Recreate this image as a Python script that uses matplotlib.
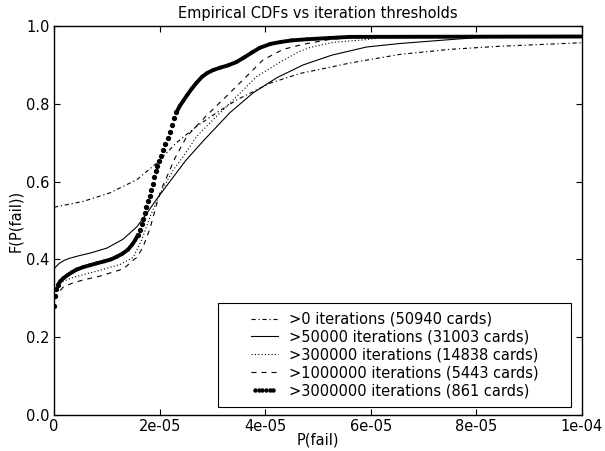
import numpy as np
import matplotlib
matplotlib.use("Agg")
import matplotlib.pyplot as plt
from matplotlib.lines import Line2D
from matplotlib.patches import Rectangle
from matplotlib.collections import LineCollection
from matplotlib.legend_handler import HandlerLine2D

plt.rcParams['font.family'] = ['DejaVu Sans']
plt.rcParams['lines.scale_dashes'] = False

# ---- data (x in units of 1e-6) ----
labels = [">0 iterations (50940 cards)",
          ">50000 iterations (31003 cards)",
          ">300000 iterations (14838 cards)",
          ">1000000 iterations (5443 cards)",
          ">3000000 iterations (861 cards)"]

x_gt0 = [0, 5.5, 10.6, 15.7, 19.5, 23.2, 27.0, 30.8, 34.6, 38.4, 40.9, 46.6, 52.3,
         56.1, 65.5, 75.0, 84.5, 100]
y_gt0 = [0.534, 0.549, 0.571, 0.605, 0.648, 0.700, 0.742, 0.777, 0.810, 0.836, 0.853,
         0.878, 0.894, 0.905, 0.927, 0.940, 0.948, 0.957]

x_gt50k = [0, 1.0, 2.0, 3.0, 4.9, 6.8, 10.0, 13.1, 15.7, 17.6, 19.5, 22.6, 25.0, 28.3,
           33.3, 37.7, 42.2, 47.2, 52.6, 59.2, 65.5, 75.0, 80.0, 100]
y_gt50k = [0.376, 0.390, 0.398, 0.403, 0.410, 0.416, 0.429, 0.452, 0.484, 0.519, 0.556,
           0.612, 0.655, 0.705, 0.777, 0.828, 0.867, 0.900, 0.925, 0.946, 0.955, 0.965,
           0.970, 0.973]

x_gt300k = [0, 1.1, 3.7, 8.7, 12.5, 15.0, 16.6, 18.2, 20.1, 22.6, 24.5, 27.0, 30.8, 34.6,
            38.4, 43.4, 46.6, 48.5, 52.9, 59.2, 62.0, 100]
y_gt300k = [0.318, 0.340, 0.354, 0.372, 0.387, 0.405, 0.450, 0.510, 0.570, 0.630, 0.665,
            0.716, 0.768, 0.819, 0.870, 0.912, 0.935, 0.945, 0.958, 0.965, 0.970, 0.973]

x_gt1m = [0, 1.8, 3.7, 5.5, 8.7, 12.5, 13.1, 15.0, 15.7, 16.9, 18.2, 19.5, 20.4, 21.3,
          22.9, 25.1, 26.1, 28.9, 32.7, 36.5, 39.6, 43.4, 47.2, 52.0, 56.0, 100]
y_gt1m = [0.300, 0.330, 0.340, 0.347, 0.357, 0.373, 0.375, 0.398, 0.405, 0.433, 0.480,
          0.545, 0.583, 0.610, 0.660, 0.715, 0.730, 0.770, 0.820, 0.871, 0.913, 0.940,
          0.953, 0.965, 0.970, 0.973]

x_gt3m = [0, 0.2, 0.4, 0.7, 1.2, 1.8, 2.6, 3.4, 4.3, 5.5, 6.8, 8.1, 9.5, 10.8, 11.9, 13.0,
          14.0, 14.8, 15.4, 15.9, 16.3, 16.6, 16.9, 17.2, 17.5, 17.8, 18.1, 18.4, 18.7,
          19.0, 19.3, 19.6, 19.9, 20.3, 20.7, 21.1, 21.5, 21.9, 22.3, 22.7, 23.2, 23.8,
          24.5, 25.3, 26.1, 27.0, 28.0, 29.0, 30.2, 31.5, 33.0, 34.5, 36.0, 37.5, 39.0,
          41.0, 43.0, 45.0, 48.0, 52.0, 56.0, 100]
y_gt3m = [0.280, 0.306, 0.324, 0.334, 0.344, 0.352, 0.360, 0.367, 0.374, 0.380, 0.385,
          0.390, 0.395, 0.400, 0.407, 0.415, 0.425, 0.438, 0.450, 0.463, 0.476, 0.491,
          0.505, 0.519, 0.534, 0.549, 0.563, 0.579, 0.595, 0.611, 0.626, 0.640, 0.652,
          0.667, 0.682, 0.697, 0.712, 0.728, 0.746, 0.763, 0.778, 0.794, 0.808, 0.824,
          0.839, 0.854, 0.869, 0.879, 0.887, 0.893, 0.899, 0.907, 0.919, 0.932, 0.944,
          0.954, 0.959, 0.963, 0.966, 0.969, 0.972, 0.973]

xticks = [0, 2e-5, 4e-5, 6e-5, 8e-5, 1e-4]
xticklabels = ["0", "2e-05", "4e-05", "6e-05", "8e-05", "1e-04"]
yticks = [0.0, 0.2, 0.4, 0.6, 0.8, 1.0]
yticklabels = ["0.0", "0.2", "0.4", "0.6", "0.8", "1.0"]

def sc(v):
    return np.asarray(v) * 1e-6

fig = plt.figure(figsize=(6.05, 4.51), dpi=100)
ax = fig.add_axes([54/605, 36/451, 528/605, 389/451])
ax.set_xlim(0, 1e-4)
ax.set_ylim(0, 1.0)

lw = 0.8
l0, = ax.plot(sc(x_gt0), y_gt0, color='k', lw=lw, dashes=(3.0, 2.0, 0.9, 2.0))
l1, = ax.plot(sc(x_gt50k), y_gt50k, color='k', lw=lw, linestyle='-')
l2, = ax.plot(sc(x_gt300k), y_gt300k, color='k', lw=lw, dashes=(0.8, 1.6))
l3, = ax.plot(sc(x_gt1m), y_gt1m, color='k', lw=lw, dashes=(3.6, 3.6))

# thick dotted series: continuous band where shallow, separate dots where steep
xs = sc(x_gt3m)
ys = np.asarray(y_gt3m)
pts = np.column_stack([xs, ys])
disp = ax.transData.transform(pts)
dd = np.diff(disp, axis=0)
steep = np.abs(dd[:, 1]) > 2.0 * np.maximum(np.abs(dd[:, 0]), 1e-9)
segs = np.stack([pts[:-1], pts[1:]], axis=1)
widths = np.where(steep, 0.0, 2.8)
ax.add_collection(LineCollection(segs, linewidths=widths, colors='k',
                                 capstyle='round', joinstyle='round'))
dot_mask = np.zeros(len(xs), dtype=bool)
dot_mask[:-1] |= steep
dot_mask[1:] |= steep
ax.plot(xs[dot_mask], ys[dot_mask], linestyle='none', color='k', marker='o',
        ms=3.8, mew=0)
l4 = Line2D([], [], color='k', linestyle='none', marker='o', ms=3.2, mew=0)

ax.set_xticks(xticks)
ax.set_xticklabels(xticklabels)
ax.set_yticks(yticks)
ax.set_yticklabels(yticklabels)
ax.tick_params(direction='in', top=True, right=True, length=4.5, width=0.8,
               labelsize=10.5, pad=3)
for s in ax.spines.values():
    s.set_linewidth(1.0)

ax.set_title("Empirical CDFs vs iteration thresholds", fontsize=10.5, pad=6)
ax.set_xlabel("P(fail)", fontsize=10.5, labelpad=-1)
ax.set_ylabel("F(P(fail))", fontsize=10.5, labelpad=2)

# legend box
bx0, bx1 = (218-54)/528, (571-54)/528
by0, by1 = (415-407)/389, (415-303)/389
ax.add_patch(Rectangle((bx0, by0), bx1-bx0, by1-by0, transform=ax.transAxes,
                       facecolor='white', edgecolor='k', lw=0.8, zorder=5))
leg = ax.legend([l0, l1, l2, l3, l4], labels, frameon=False, loc='center',
                bbox_to_anchor=((bx0+bx1)/2, (by0+by1)/2), fontsize=10.5,
                handlelength=1.85, handletextpad=0.75, labelspacing=0.2,
                borderpad=0.0,
                handler_map={l4: HandlerLine2D(numpoints=6)})
leg.set_zorder(6)

fig.savefig("out.png", dpi=100)
